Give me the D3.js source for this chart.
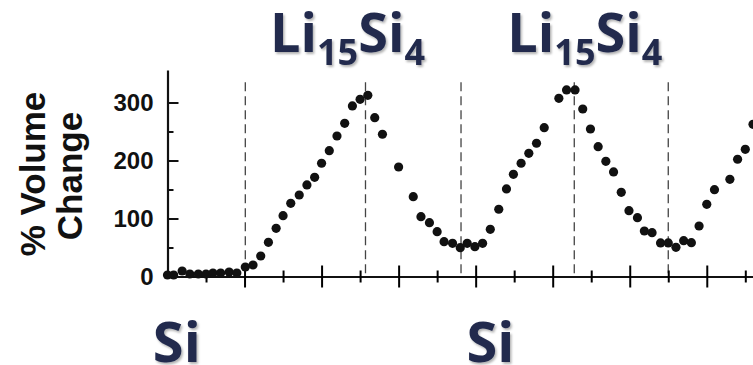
<!DOCTYPE html>
<html>
<head>
<meta charset="utf-8">
<script src="https://cdn.jsdelivr.net/npm/d3@7"></script>
<style>
  body { margin: 0; background: #fff; }
  svg { display: block; }
</style>
</head>
<body>
<figure id="vol-chart" style="margin:0"></figure>
<script>
// time (in major x-tick units) and % volume change
const times = [0.00, 0.08, 0.19, 0.29, 0.40, 0.50, 0.59, 0.69, 0.80, 0.90,
  1.01, 1.11, 1.21, 1.31, 1.41, 1.50, 1.60, 1.71, 1.81, 1.91,
  2.00, 2.10, 2.20, 2.30, 2.40, 2.50, 2.60, 2.69, 2.79, 3.00,
  3.19, 3.29, 3.40, 3.50, 3.59, 3.70, 3.80, 3.89, 3.99, 4.09,
  4.19, 4.30, 4.40, 4.49, 4.59, 4.69, 4.79, 4.89, 5.08, 5.18,
  5.29, 5.39, 5.49, 5.59, 5.69, 5.79, 5.89, 5.99, 6.10, 6.19,
  6.29, 6.40, 6.50, 6.60, 6.70, 6.80, 6.90, 7.00, 7.10, 7.30,
  7.40, 7.50, 7.60];
const volChange = [2.6, 2.6, 9.5, 4.3, 4.3, 4.3, 6.0, 6.0, 7.8, 6.0,
  16.4, 19.8, 35.3, 59.0, 83.1, 104.8, 126.2, 140.5, 157.8, 171.0,
  195.2, 216.9, 242.2, 264.1, 294.0, 305.5, 312.4, 273.8, 245.2, 188.8,
  137.6, 103.1, 92.8, 77.2, 60.0, 57.2, 49.7, 57.2, 51.4, 57.2,
  81.4, 115.9, 150.9, 176.2, 195.2, 212.4, 229.7, 256.6, 307.2, 321.6,
  321.6, 288.8, 254.3, 223.8, 198.6, 180.2, 145.2, 113.4, 101.4, 78.4,
  75.5, 57.8, 57.8, 50.3, 61.7, 58.3, 87.1, 124.5, 149.7, 167.6,
  202.1, 219.3, 262.4];

// dashed phase markers
const phaseMarks = [1.01, 2.57, 3.81, 5.28, 6.50];

const yTicks = [0, 100, 200, 300];
const yMinorTicks = [50, 150, 250];
const xTicks = [1, 2, 3, 4, 5, 6, 7];
const xMinorTicks = [0.5, 1.5, 2.5, 3.5, 4.5, 5.5, 6.5, 7.5];

const phaseLabels = [
  {at: 1.37, kind: "lithiated"},
  {at: 4.45, kind: "lithiated"},
  {at: -0.19, kind: "silicon"},
  {at: 3.88, kind: "silicon"}
];

const width = 753, height = 365;
const margin = {top: 70, right: 0, bottom: 88.5, left: 167.5};

const x = d3.scaleLinear().domain([0, 7.6]).range([margin.left, width - margin.right]);
const y = d3.scaleLinear().domain([0, 356]).range([height - margin.bottom, margin.top]);

const svg = d3.select("figure#vol-chart")
  .append("svg")
  .attr("width", width)
  .attr("height", height);

const defs = svg.append("defs");
defs.append("filter")
    .attr("id", "shadow")
    .attr("x", "-10%").attr("y", "-10%")
    .attr("width", "130%").attr("height", "130%")
  .append("feDropShadow")
    .attr("dx", 1.5).attr("dy", 2)
    .attr("stdDeviation", 1.2)
    .attr("flood-color", "#000")
    .attr("flood-opacity", 0.3);

// dashed vertical lines
svg.append("g")
    .attr("stroke", "#444")
    .attr("stroke-width", 1.3)
    .attr("stroke-dasharray", "9,5")
  .selectAll("line")
  .data(phaseMarks)
  .join("line")
    .attr("x1", d => x(d)).attr("x2", d => x(d))
    .attr("y1", y(335)).attr("y2", y(0));

// x axis: ticks crossing the line
const xAxis = svg.append("g")
    .attr("transform", `translate(0,${y(0)})`)
    .call(d3.axisBottom(x).tickValues(xTicks).tickSize(11).tickFormat("").tickSizeOuter(0));
xAxis.selectAll(".tick line").attr("y1", -11).attr("stroke-width", 2);
const xAxisMinor = svg.append("g")
    .attr("transform", `translate(0,${y(0)})`)
    .call(d3.axisBottom(x).tickValues(xMinorTicks).tickSize(6).tickFormat("").tickSizeOuter(0));
xAxisMinor.selectAll(".tick line").attr("y1", -6).attr("stroke-width", 2);
xAxisMinor.select(".domain").remove();
xAxis.select(".domain").attr("stroke-width", 2.2).attr("stroke", "#111");

// y axis: ticks pointing inwards
const yAxis = svg.append("g")
    .attr("transform", `translate(${x(0)},0)`)
    .call(d3.axisLeft(y).tickValues(yTicks).tickSize(-11).tickPadding(14).tickSizeOuter(0));
yAxis.select(".domain").attr("stroke-width", 2.2).attr("stroke", "#111");
yAxis.selectAll(".tick line").attr("stroke-width", 2).attr("stroke", "#111");
yAxis.selectAll(".tick")
    .filter(d => d === 0).select("line").remove();
yAxis.selectAll("text")
    .attr("font-family", "Liberation Sans, Arial, sans-serif")
    .attr("font-weight", "bold")
    .attr("font-size", 24)
    .attr("fill", "#111");
const yAxisMinor = svg.append("g")
    .attr("transform", `translate(${x(0)},0)`)
    .call(d3.axisLeft(y).tickValues(yMinorTicks).tickSize(-6).tickFormat("").tickSizeOuter(0));
yAxisMinor.select(".domain").remove();
yAxisMinor.selectAll(".tick line").attr("stroke-width", 2).attr("stroke", "#111");

// y title
const yTitle = svg.append("g")
    .attr("font-family", "Liberation Sans, Arial, sans-serif")
    .attr("font-weight", "bold")
    .attr("font-size", 35)
    .attr("fill", "#111")
    .attr("text-anchor", "middle");
yTitle.append("text")
    .attr("transform", `translate(45,174)rotate(-90)`)
    .text("% Volume");
yTitle.append("text")
    .attr("transform", `translate(82,176)rotate(-90)`)
    .text("Change");

// data points
const points = times.map((t, i) => ({t, v: volChange[i]}));
svg.append("g")
    .attr("fill", "#111")
  .selectAll("circle")
  .data(points)
  .join("circle")
    .attr("cx", d => x(d.t))
    .attr("cy", d => y(d.v))
    .attr("r", 4.6);

// phase labels
const labelColor = "#232c4e";
const labels = svg.append("g")
    .attr("font-family", "Open Sans, Lato, sans-serif")
    .attr("font-weight", 700)
    .attr("fill", labelColor)
    .attr("filter", "url(#shadow)");

labels.selectAll("text.lith")
  .data(phaseLabels.filter(d => d.kind === "lithiated"))
  .join("text")
    .attr("class", "lith")
    .attr("x", d => x(d.at) - 3)
    .attr("y", 52)
    .attr("font-size", 54)
    .call(t => {
      t.append("tspan").text("Li");
      t.append("tspan").attr("dy", 13).attr("font-size", 36).text("15");
      t.append("tspan").attr("dy", -13).text("Si");
      t.append("tspan").attr("dy", 13).attr("font-size", 36).text("4");
    });

labels.selectAll("text.si")
  .data(phaseLabels.filter(d => d.kind === "silicon"))
  .join("text")
    .attr("class", "si")
    .attr("x", d => x(d.at))
    .attr("y", 362)
    .attr("font-size", 56)
    .text("Si");
</script>
</body>
</html>
